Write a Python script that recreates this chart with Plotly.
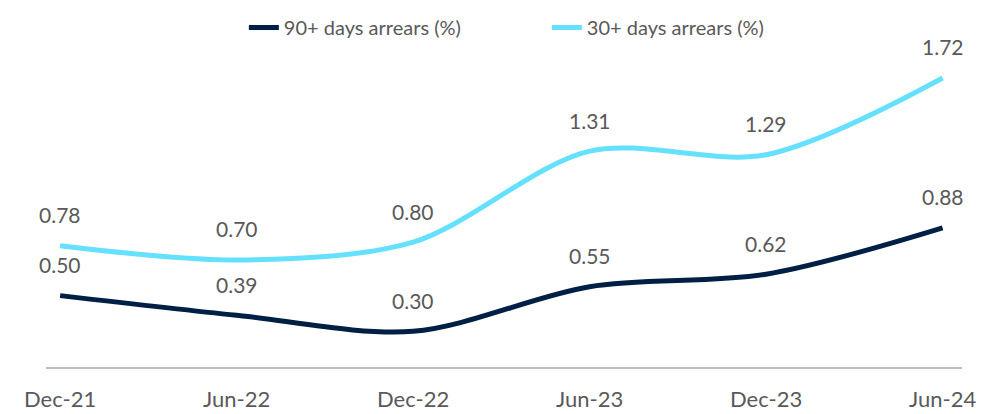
import plotly.graph_objects as go

categories = ["Dec-21", "Jun-22", "Dec-22", "Jun-23", "Dec-23", "Jun-24"]
arrears_90 = [0.50, 0.39, 0.30, 0.55, 0.62, 0.88]
arrears_30 = [0.78, 0.70, 0.80, 1.31, 1.29, 1.72]

NAVY = "#001F45"
CYAN = "#66E0FF"
TEXT = "#595959"
FONT = "Lato, 'Open Sans', sans-serif"

fig = go.Figure()
fig.add_trace(go.Scatter(
    x=categories, y=arrears_90, mode="lines", name="90+ days arrears (%)",
    line=dict(color=NAVY, width=5, shape="spline", smoothing=0.9),
))
fig.add_trace(go.Scatter(
    x=categories, y=arrears_30, mode="lines", name="30+ days arrears (%)",
    line=dict(color=CYAN, width=5, shape="spline", smoothing=0.9),
))

for series in (arrears_90, arrears_30):
    for c, v in zip(categories, series):
        fig.add_annotation(
            x=c, y=v, text=f"{v:.2f}", showarrow=False,
            yshift=31, yanchor="middle", xanchor="center",
            font=dict(family=FONT, size=21, color=TEXT),
        )

fig.update_layout(
    width=997, height=414,
    margin=dict(l=38, r=43, t=20, b=55, autoexpand=False),
    paper_bgcolor="white", plot_bgcolor="white",
    font=dict(family=FONT, color=TEXT),
    legend=dict(
        orientation="h", x=0.216, xanchor="left",
        yref="container", y=1.0, yanchor="top",
        font=dict(family=FONT, size=20, color=TEXT),
        entrywidth=258, entrywidthmode="pixels",
        bgcolor="rgba(0,0,0,0)",
    ),
    xaxis=dict(
        type="category", range=[-0.08, 5.11],
        showgrid=False, zeroline=False, showline=True,
        linecolor="#BFBFBF", linewidth=1.5, ticks="",
        tickfont=dict(family=FONT, size=22, color=TEXT),
        ticklabelstandoff=12,
    ),
    yaxis=dict(
        range=[0.1, 2.0], visible=False, showgrid=False, zeroline=False,
    ),
)

fig.write_html("out.html")
